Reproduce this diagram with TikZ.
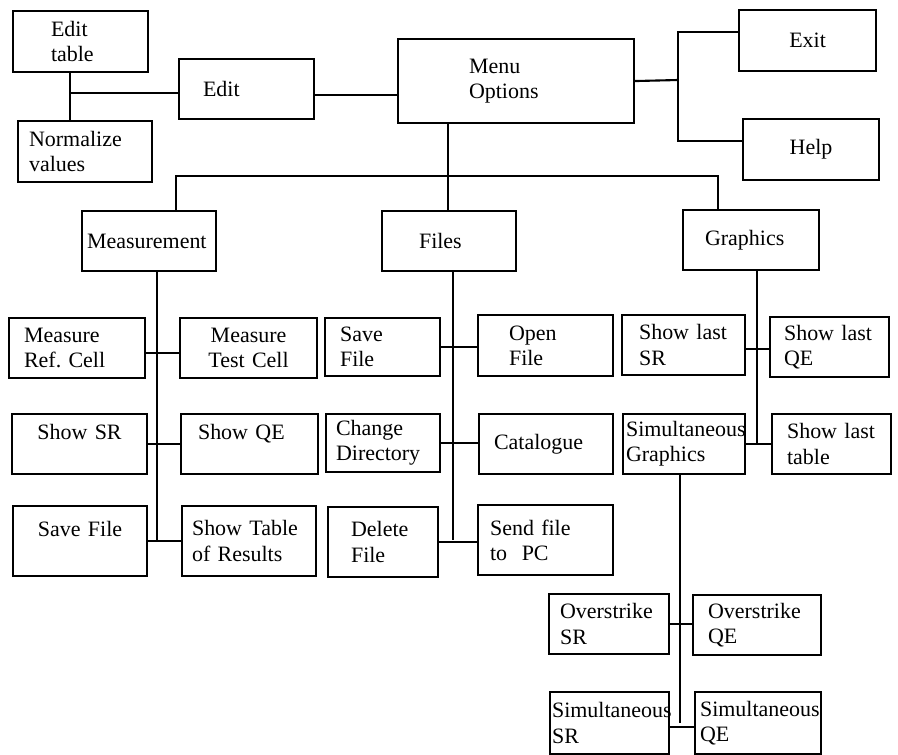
\documentclass[tikz,border=0pt]{standalone}
\usepackage{fontspec}
\setmainfont{Liberation Serif}
\usetikzlibrary{positioning, calc}

\begin{document}
\begin{tikzpicture}[x=0.02cm, y=-0.02cm,
          bx/.style={draw, line width=1.2pt, anchor=north west, align=left,
                     inner ysep=0pt, font=\fontsize{12.5}{14.4}\selectfont},
          bc/.style={bx, align=center},
          ln/.style={line width=1.2pt}]
        \useasboundingbox (0,0) rectangle (898,754);
        \node[bx, inner xsep=0.76cm, text width=1.18cm, minimum height=1.22cm] (edtab) at (12,10) {Edit\\table};
        \node[bx, inner xsep=0.22cm, text width=2.24cm, minimum height=1.22cm] (norm) at (17,120) {Normalize\\values};
        \node[bx, inner xsep=0.48cm, text width=1.74cm, minimum height=1.2cm] (edit) at (178,58) {Edit};
        \node[bx, inner xsep=1.42cm, text width=1.88cm, minimum height=1.68cm] (menu) at (397,38) {Menu\\Options};
        \node[bc, inner xsep=0.2cm, text width=2.34cm, minimum height=1.22cm] (exit) at (738,9) {Exit};
        \node[bc, inner xsep=0.2cm, text width=2.32cm, minimum height=1.22cm] (help) at (742,118) {Help};

        \node[bx, inner xsep=0.1cm, text width=2.48cm, minimum height=1.2cm] (meas) at (81,210) {Measurement};
        \node[bx, inner xsep=0.74cm, text width=1.2cm, minimum height=1.2cm] (files) at (381,210) {Files};
        \node[bx, inner xsep=0.44cm, text width=1.84cm, minimum height=1.2cm] (graph) at (682,209) {Graphics};

        \node[bx, inner xsep=0.3cm, text width=2.12cm, minimum height=1.2cm] (mref) at (8,317) {Measure\\Ref.\ Cell};
        \node[bc, inner xsep=0.2cm, text width=2.34cm, minimum height=1.2cm] (mtest) at (179,317) {Measure\\Test Cell};
        \node[bc, inner xsep=0.2cm, text width=2.3cm, minimum height=1.2cm] (showsr) at (11,413) {Show SR\\~};
        \node[bx, inner xsep=0.34cm, text width=2.06cm, minimum height=1.2cm] (showqe) at (180,413) {Show QE\\~};
        \node[bc, inner xsep=0.2cm, text width=2.28cm, minimum height=1.4cm] (savem) at (12,505) {Save File\\~};
        \node[bx, inner xsep=0.2cm, text width=2.28cm, minimum height=1.4cm] (tabres) at (181,505) {Show Table\\of Results};

        \node[bx, inner xsep=0.3cm, text width=1.7cm, minimum height=1.16cm] (savef) at (324,317) {Save\\File};
        \node[bx, inner xsep=0.62cm, text width=1.46cm, minimum height=1.22cm] (openf) at (477,314) {Open\\File};
        \node[bx, inner xsep=0.2cm, text width=1.88cm, minimum height=1.16cm] (chdir) at (325,413) {Change\\Directory};
        \node[bx, inner xsep=0.3cm, text width=2.08cm, minimum height=1.2cm] (catal) at (478,413) {Catalogue};
        \node[bx, inner xsep=0.46cm, text width=1.28cm, minimum height=1.4cm] (delf) at (327,506) {Delete\\File};
        \node[bx, inner xsep=0.24cm, text width=2.22cm, minimum height=1.4cm] (sendpc) at (477,504) {Send file\\to~ PC};

        \node[bx, inner xsep=0.34cm, text width=1.78cm, minimum height=1.2cm] (lastsr) at (621,314) {Show last\\SR};
        \node[bx, inner xsep=0.28cm, text width=1.82cm, minimum height=1.2cm] (lastqe) at (769,316) {Show last\\QE};
        \node[bx, inner xsep=0.06cm, text width=2.32cm, minimum height=1.2cm] (simg) at (622,413) {Simultaneous\\Graphics};
        \node[bx, inner xsep=0.3cm, text width=1.78cm, minimum height=1.2cm] (lasttab) at (771,413) {Show last\\table};

        \node[bx, inner xsep=0.22cm, text width=1.96cm, minimum height=1.2cm] (ovsr) at (548,593) {Overstrike\\SR};
        \node[bx, inner xsep=0.3cm, text width=1.96cm, minimum height=1.2cm] (ovqe) at (692,594) {Overstrike\\QE};
        \node[bx, inner xsep=0.04cm, text width=2.3cm, minimum height=1.24cm] (simsr) at (549,691) {Simultaneous\\SR};
        \node[bx, inner xsep=0.1cm, text width=2.32cm, minimum height=1.24cm] (simqe) at (694,691) {Simultaneous\\QE};

        \coordinate (ej) at (70,93);
        \coordinate (mj) at (678,80);
        \coordinate (bus) at (448,176);
        \draw[ln] (edtab.south -| ej) -- (norm.north -| ej);
        \draw[ln] (ej) -- (edit.west |- ej);
        \draw[ln] ([yshift=-0.12cm]edit.east) -- ([yshift=-0.12cm]edit.east -| menu.west);
        \draw[ln] (menu.east) -- (mj);
        \draw[ln] ([yshift=0.17cm]exit.west) -| (mj) |- ([yshift=0.17cm]help.west);
        \draw[ln] (menu.south -| bus) -- (files.north -| bus);
        \draw[ln] ([xshift=0.54cm]meas.north) |- (bus) -| ([xshift=-0.66cm]graph.north);

        \draw[ln] ([xshift=0.16cm]meas.south) coordinate (mt) -- (mt |- tabres.west);
        \draw[ln] ([yshift=-0.1cm]mref.east) -- ([yshift=-0.1cm]mtest.west);
        \draw[ln] (showsr.east) -- (showqe.west);
        \draw[ln] (savem.east) -- (tabres.west);

        \draw[ln] ([xshift=0.08cm]files.south) coordinate (ft) -- (ft |- sendpc.west);
        \draw[ln] (savef.east) -- (savef.east -| openf.west);
        \draw[ln] (chdir.east) -- (chdir.east -| catal.west);
        \draw[ln] (delf.east) -- (delf.east -| sendpc.west);

        \draw[ln] ([xshift=0.12cm]graph.south) coordinate (gt) -- (gt |- lasttab.west);
        \draw[ln] ([yshift=-0.08cm]lastsr.east) -- ([yshift=-0.08cm]lastsr.east -| lastqe.west);
        \draw[ln] (simg.east) -- (simg.east -| lasttab.west);

        \draw[ln] ([xshift=-0.08cm]simg.south) coordinate (st) -- (st |- simsr.east);
        \draw[ln] (ovsr.east) -- (ovsr.east -| ovqe.west);
        \draw[ln] ([yshift=-0.08cm]simsr.east) -- ([yshift=-0.08cm]simsr.east -| simqe.west);
      \end{tikzpicture}
\end{document}
